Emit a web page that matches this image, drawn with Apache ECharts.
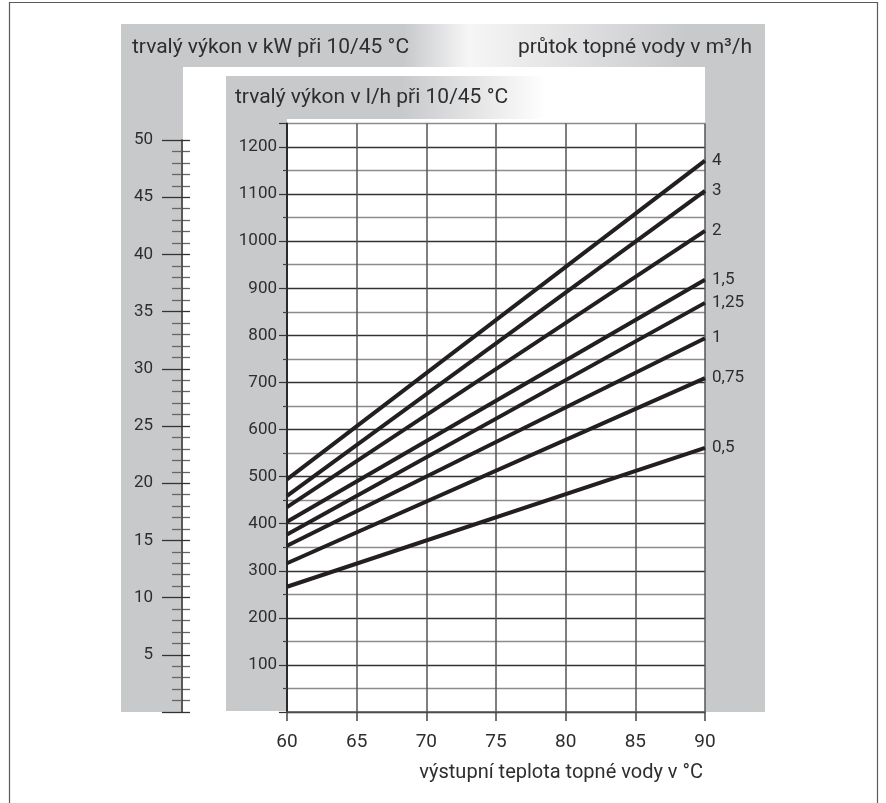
<!DOCTYPE html>
<html>
<head>
<meta charset="utf-8">
<script src="https://cdn.jsdelivr.net/npm/echarts@6/dist/echarts.min.js"></script>
<style>
html,body{margin:0;padding:0;background:#fff;}
#chart{width:886px;height:803px;}
</style>
</head>
<body>
<div id="chart"></div>
<script>
// ---- data ----
const flowRates = ['4', '3', '2', '1,5', '1,25', '1', '0,75', '0,5'];   // m3/h
const temps = [60, 90];                                                   // °C
const outputAt60 = [494, 459, 435, 404, 377, 353, 316, 266];              // l/h
const outputAt90 = [1171, 1107, 1022, 918, 869, 794, 709, 561];           // l/h
const xTicks = [60, 65, 70, 75, 80, 85, 90];
const kwTicks = [5, 10, 15, 20, 25, 30, 35, 40, 45, 50];
const lhTicks = [100, 200, 300, 400, 500, 600, 700, 800, 900, 1000, 1100, 1200];

const titleKW = 'trvalý výkon v kW při 10/45 °C';
const titleFlow = 'průtok topné vody v m³/h';
const titleLH = 'trvalý výkon v l/h při 10/45 °C';
const titleX = 'výstupní teplota topné vody v °C';

const FONT = 'Roboto, "DejaVu Sans", sans-serif';
const GRAY = '#c8c9cb';
const TXT = '#2e2e2e';

const chart = echarts.init(document.getElementById('chart'), null, {renderer: 'canvas'});

const series = flowRates.map((name, i) => ({
  name: name,
  type: 'line',
  xAxisIndex: 0,
  yAxisIndex: 0,
  data: [[temps[0], outputAt60[i]], [temps[1], outputAt90[i]]],
  symbol: 'none',
  silent: true,
  lineStyle: {color: '#231f20', width: 4, cap: 'butt'},
  endLabel: {
    show: true,
    formatter: name,
    distance: 7,
    color: TXT,
    fontFamily: FONT,
    fontSize: 17
  },
  z: 5
}));

const lhSplitColors = lhTicks.map(() => '#333').concat(['#333', '#8c8c8c']); // ticks 0..1200 + 1250

const option = {
  backgroundColor: '#fff',
  animation: false,
  grid: [
    {left: 287, right: 181, top: 123.5, bottom: 91, containLabel: false},
    {left: 182, width: 8, top: 140, bottom: 91, containLabel: false}
  ],
  xAxis: [
    {
      type: 'value', gridIndex: 0, min: 60, max: 90, interval: 5,
      axisLine: {show: true, lineStyle: {color: '#555', width: 1.5}},
      axisTick: {show: true, length: 9, lineStyle: {color: '#444', width: 1.5}},
      axisLabel: {
        show: true, margin: 21, color: TXT, fontFamily: FONT, fontSize: 19,
        formatter: v => xTicks.indexOf(v) >= 0 ? String(v) : ''
      },
      splitLine: {show: true, lineStyle: {color: '#555', width: 1.5}}
    },
    {type: 'value', gridIndex: 1, min: 0, max: 1, show: false}
  ],
  yAxis: [
    {
      type: 'value', gridIndex: 0, min: 0, max: 1250, interval: 100,
      axisLine: {show: true, lineStyle: {color: '#222', width: 1.8}},
      axisTick: {show: true, length: 8, lineStyle: {color: '#333', width: 1.2}},
      minorTick: {show: true, splitNumber: 2, length: 4, lineStyle: {color: '#444', width: 1.2}},
      axisLabel: {
        show: true, margin: 10, color: TXT, fontFamily: FONT, fontSize: 17,
        formatter: v => lhTicks.indexOf(v) >= 0 ? String(v) : ''
      },
      splitLine: {show: true, lineStyle: {color: lhSplitColors, width: 1.3}},
      minorSplitLine: {show: true, lineStyle: {color: '#8c8c8c', width: 1.3}}
    },
    {
      type: 'value', gridIndex: 1, min: 0, max: 50, interval: 5,
      axisLine: {show: true, lineStyle: {color: '#333', width: 1.5}},
      axisTick: {show: true, length: 20, lineStyle: {color: '#333', width: 1.3}},
      minorTick: {show: true, splitNumber: 5, length: 10, lineStyle: {color: '#666', width: 1.3}},
      axisLabel: {
        show: true, margin: 29, color: TXT, fontFamily: FONT, fontSize: 17,
        formatter: v => kwTicks.indexOf(v) >= 0 ? String(v) : ''
      },
      splitLine: {show: true, lineStyle: {color: '#333', width: 1.3}},
      minorSplitLine: {show: true, lineStyle: {color: '#666', width: 1.3}}
    }
  ],
  graphic: [
    // outer frame
    {type: 'polyline', z: -20, silent: true,
     shape: {points: [[9.5, 803], [9.5, 2.5], [877.5, 2.5], [877.5, 803]]},
     style: {stroke: '#5a5a5a', lineWidth: 1.2, fill: null}},
    // big gray frame: top band with gradient
    {type: 'rect', z: -10, silent: true,
     shape: {x: 121, y: 24, width: 644, height: 43},
     style: {fill: new echarts.graphic.LinearGradient(0, 0, 1, 0, [
       {offset: 0, color: GRAY},
       {offset: 0.44, color: GRAY},
       {offset: 0.54, color: '#f6f6f7'},
       {offset: 0.6, color: '#eeeeef'},
       {offset: 0.88, color: GRAY},
       {offset: 1, color: GRAY}
     ])}},
    {type: 'rect', z: -10, silent: true,
     shape: {x: 121, y: 66.5, width: 62, height: 645.5}, style: {fill: GRAY}},
    {type: 'rect', z: -10, silent: true,
     shape: {x: 705, y: 66.5, width: 60, height: 645.5}, style: {fill: GRAY}},
    // second panel
    {type: 'rect', z: -10, silent: true,
     shape: {x: 226, y: 76, width: 320, height: 43},
     style: {fill: new echarts.graphic.LinearGradient(0, 0, 1, 0, [
       {offset: 0, color: GRAY},
       {offset: 0.55, color: GRAY},
       {offset: 1, color: '#ffffff'}
     ])}},
    {type: 'rect', z: -10, silent: true,
     shape: {x: 226, y: 118.5, width: 61, height: 592.5}, style: {fill: GRAY}},
    // header texts
    {type: 'text', z: 10, silent: true, x: 132, y: 48,
     style: {text: titleKW, fill: TXT, font: '21px ' + FONT, verticalAlign: 'middle', align: 'left'}},
    {type: 'text', z: 10, silent: true, x: 752, y: 48,
     style: {text: titleFlow, fill: TXT, font: '21px ' + FONT, verticalAlign: 'middle', align: 'right'}},
    {type: 'text', z: 10, silent: true, x: 235, y: 98,
     style: {text: titleLH, fill: TXT, font: '21px ' + FONT, verticalAlign: 'middle', align: 'left'}},
    {type: 'text', z: 10, silent: true, x: 703, y: 773,
     style: {text: titleX, fill: TXT, font: '20px ' + FONT, verticalAlign: 'middle', align: 'right'}}
  ],
  series: series
};

chart.setOption(option);
</script>
</body>
</html>
